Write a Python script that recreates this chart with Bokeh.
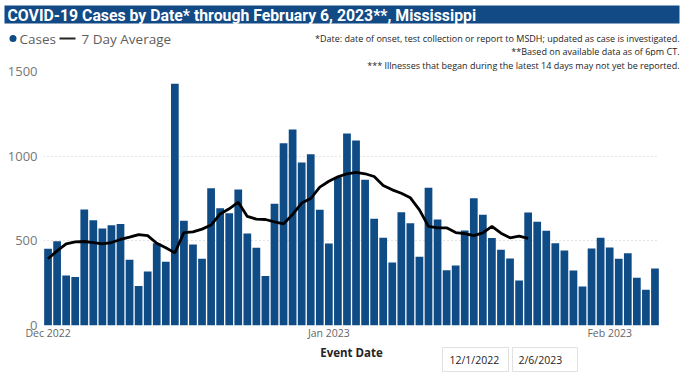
import pandas as pd
from bokeh.plotting import figure
from bokeh.layouts import column
from bokeh.models import Range1d, FixedTicker, DatetimeTickFormatter, ColumnDataSource, Title
from bokeh.core.properties import value
from bokeh.embed import file_html
from bokeh.resources import INLINE

# ---- data ----
start_date = "2022-12-01"
cases = [453, 498, 295, 287, 685, 622, 573, 592, 600, 388, 234, 319, 486, 376, 1427, 618, 478, 394, 811, 693, 663, 803,
         543, 459, 293, 719, 1077, 1157, 963, 1012, 683, 484, 876, 1134, 1093, 860, 630, 518, 372, 669, 604, 406, 813,
         626, 327, 354, 561,
         752, 654, 516, 447, 396, 266, 667, 612, 559, 486, 443, 325, 230, 455, 518, 461, 394, 427, 282, 211, 337]
avg7 = [394, 441, 482, 494, 496, 490, 482, 490, 508, 522, 537, 531, 486, 459, 429, 549, 553, 569, 593, 659, 689, 728,
        644, 628, 626, 612, 600, 656, 723, 750, 817, 852, 878, 896, 904, 896, 880, 827, 801, 781, 754, 683, 585, 577,
        577, 549, 543,
        531, 547, 585, 545, 518, 528, 514]
tick_dates = ["2022-12-01", "2023-01-01", "2023-02-01"]
y_ticks = [0, 500, 1000, 1500]
title_text = "COVID-19 Cases by Date* through February 6, 2023**, Mississippi"
legend_items = ["Cases", "7 Day Average"]
notes = ["*Date: date of onset, test collection or report to MSDH; updated as case is investigated.",
         "**Based on available data as of 6pm CT.",
         "*** Illnesses that began during the latest 14 days may not yet be reported."]
x_title = "Event Date"
slicer = ["12/1/2022", "2/6/2023"]

dates = pd.date_range(start_date, periods=len(cases), freq="D")
src_bar = ColumnDataSource(dict(x=dates, y=cases))
src_line = ColumnDataSource(dict(x=dates[:len(avg7)], y=avg7))

W = 687
TITLE_BLUE = "#124A86"
BAR = "#0F4C86"
DARK = "#252423"
LEGEND_GRAY = "#605E5C"
FONT = value("Open Sans")


def blank(height):
    f = figure(width=W, height=height, output_backend="svg", toolbar_location=None,
               x_range=Range1d(0, W), y_range=Range1d(height, 0),
               x_axis_location=None, y_axis_location=None,
               min_border=0, min_border_left=0, min_border_right=0, min_border_top=0, min_border_bottom=0,
               title=None, frame_align=False)
    f.grid.visible = False
    f.outline_line_color = None
    f.background_fill_color = "white"
    f.border_fill_color = "white"
    return f


def txt(f, x, y, t, size, color=DARK, align="left", font=FONT, style="normal"):
    f.text(x=[x], y=[y], text=[t], text_font=font, text_font_size=size, text_color=color,
           text_align=align, text_baseline="middle", text_font_style=style)


# ---------- top strip: title bar, legend, notes ----------
TOP_H = 56
top = blank(TOP_H)
top.quad(left=[4], right=[679], top=[5], bottom=[23], fill_color=TITLE_BLUE, line_color=None)
txt(top, 7, 14.5, title_text, "15.8px", color="white", font=value("Roboto"), style="bold")
top.scatter(x=[12.5], y=[38], size=7, marker="circle", fill_color=BAR, line_color=None)
txt(top, 19, 38, legend_items[0], "13.5px", color=LEGEND_GRAY)
top.line(x=[59, 75], y=[38, 38], line_color=DARK, line_width=2)
txt(top, 81, 38, legend_items[1], "13.5px", color=LEGEND_GRAY)
txt(top, 679, 38, notes[0], "9px", align="right")
txt(top, 679, 50.5, notes[1], "9px", align="right")

# ---------- main chart ----------
MAIN_H = 345 - TOP_H
half = pd.Timedelta(hours=12)
p = figure(width=W, height=MAIN_H, output_backend="svg", toolbar_location=None,
           x_axis_type="datetime", title=None, frame_align=False,
           x_range=Range1d(dates[0] - half, dates[-1] + half),
           y_range=Range1d(0, 1500),
           min_border_left=43, min_border_right=W - 659,
           min_border_top=71 - TOP_H, min_border_bottom=20)
p.outline_line_color = None
p.background_fill_color = "white"
p.border_fill_color = "white"

# third note sits just above the plot frame
p.add_layout(Title(text=notes[2], align="right", offset=-20, standoff=0,
                   text_font="Open Sans", text_font_size="9px", text_font_style="normal",
                   text_color=DARK), "above")

p.vbar(x="x", top="y", width=pd.Timedelta(hours=20.5), source=src_bar,
       fill_color=BAR, line_color=None)
p.line(x="x", y="y", source=src_line, line_color="black", line_width=2.8)

p.xaxis.ticker = FixedTicker(ticks=[pd.Timestamp(d).value // 10**6 for d in tick_dates])
fmt = "%b %Y"
p.xaxis.formatter = DatetimeTickFormatter(days=fmt, months=fmt, years=fmt, hours=fmt)
p.xaxis.axis_line_color = None
p.xaxis.major_tick_line_color = None
p.xaxis.minor_tick_line_color = None
p.xaxis.major_tick_out = 0
p.xaxis.minor_tick_out = 0
p.xaxis.major_label_text_font = "Open Sans"
p.xaxis.major_label_text_font_size = "10.5px"
p.xaxis.major_label_text_color = "#666666"
p.xaxis.major_label_standoff = 0

p.yaxis.ticker = FixedTicker(ticks=y_ticks)
p.yaxis.axis_line_color = None
p.yaxis.major_tick_line_color = None
p.yaxis.minor_tick_line_color = None
p.yaxis.major_tick_out = 0
p.yaxis.minor_tick_out = 0
p.yaxis.major_label_text_font = "Open Sans"
p.yaxis.major_label_text_font_size = "13px"
p.yaxis.major_label_text_color = "#777777"
p.yaxis.major_label_standoff = 6

p.xgrid.grid_line_color = None
p.ygrid.grid_line_color = "#C8C8C8"
p.ygrid.grid_line_dash = "1 3"

# ---------- bottom strip: axis title and date slicer ----------
BOT_H = 375 - 345
bot = blank(BOT_H)
txt(bot, 351, 6.5, x_title, "11.5px", color=DARK, align="center", style="bold")
bot.quad(left=[442, 512], right=[508, 577], top=[2, 2], bottom=[26, 26],
         fill_color="white", line_color="#E1E1E1", line_width=1)
txt(bot, 449, 14.5, slicer[0], "10.5px")
txt(bot, 518, 14.5, slicer[1], "10.5px")

layout = column(top, p, bot, spacing=0)
open("out.html", "w").write(file_html(layout, INLINE))
